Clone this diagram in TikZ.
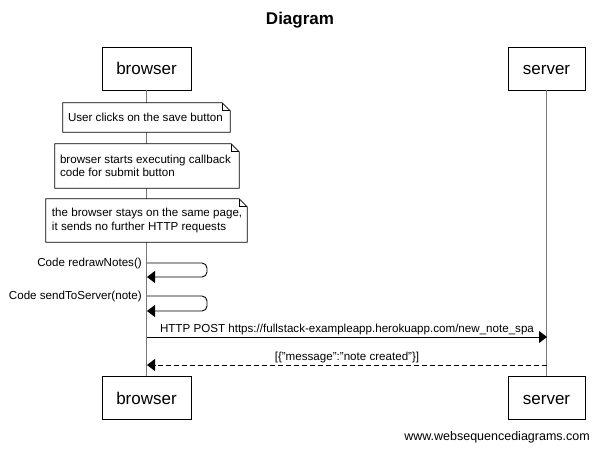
\documentclass[tikz,border=0pt]{standalone}
\usepackage{fontspec}
\setmainfont{Liberation Sans}
\usetikzlibrary{arrows.meta,calc}
\definecolor{lifegray}{RGB}{120,120,120}
\tikzset{
  actor/.style={draw=black, line width=0.9pt, fill=white, minimum height=43pt, inner sep=0pt, text height=13pt, text depth=0pt, font=\fontsize{17}{20}\selectfont},
  notebody/.style={draw=none, inner sep=0pt},
  notetext/.style={inner sep=0pt, anchor=west, align=left, font=\fontsize{11.6}{13.5}\selectfont},
  notedraw/.style={draw=black, line width=0.8pt, fill=white},
  lbl/.style={inner sep=0pt, font=\fontsize{11.6}{13.5}\selectfont},
  lifeline/.style={draw=lifegray, line width=1.3pt},
  msg/.style={draw=black, line width=0.9pt, -{Triangle[length=8pt,width=12pt]}},
  selfmsg/.style={msg, rounded corners=5pt},
  retmsg/.style={msg, dash pattern=on 5pt off 3pt}
}
\newcommand{\drawnote}[1]{%
  \draw[notedraw] (#1.south west) -- (#1.north west) -- ([xshift=-8pt]#1.north east) -- ([yshift=-8pt]#1.north east) -- (#1.south east) -- cycle;
  \draw[line width=0.8pt] ([xshift=-8pt]#1.north east) -- ([xshift=-8pt,yshift=-8pt]#1.north east) -- ([yshift=-8pt]#1.north east);
}
\begin{document}
\begin{tikzpicture}[x=1pt,y=-1pt]
\useasboundingbox (0,0) rectangle (598,449);
% title
\node[font=\bfseries\fontsize{17}{20}\selectfont] (title) at (300,20) {Diagram};
% actors
\node[actor, minimum width=89pt] (bt) at (146.5,68.5) {browser};
\node[actor, minimum width=77pt] (st) at (546.5,68.5) {server};
\node[actor, minimum width=89pt] (bb) at (146.5,398) {browser};
\node[actor, minimum width=77pt] (sb) at (546.5,398) {server};
% lifelines
\draw[lifeline] (bt.south) -- (bb.north);
\draw[lifeline] (st.south) -- (sb.north);
% notes
\node[notebody, minimum width=167pt, minimum height=29pt] (n1) at (146.5,117.5) {};
\drawnote{n1}
\node[notetext] (n1t) at ([xshift=5pt]n1.west) {User clicks on the save button};
\node[notebody, minimum width=184pt, minimum height=44pt] (n2) at (147,166) {};
\drawnote{n2}
\node[notetext] (n2t) at ([xshift=5pt]n2.west) {browser starts executing callback\\code for submit button};
\node[notebody, minimum width=201pt, minimum height=43pt] (n3) at (146.5,220.5) {};
\drawnote{n3}
\node[notetext] (n3t) at ([xshift=6pt]n3.west) {the browser stays on the same page,\\it sends no further HTTP requests};
% self messages
\coordinate (s1a) at (147,263);
\coordinate (s1b) at (147,277);
\draw[selfmsg] (s1a) -- (207,263) -- (207,277) -- (s1b);
\node[lbl, anchor=east] (l1) at (142,263) {Code redrawNotes()};
\coordinate (s2a) at (147,296);
\coordinate (s2b) at (147,311);
\draw[selfmsg] (s2a) -- (207,296) -- (207,311) -- (s2b);
\node[lbl, anchor=east] (l2) at (142,296) {Code sendToServer(note)};
% http post
\coordinate (pa) at (147,337);
\coordinate (pb) at (547,337);
\draw[msg] (pa) -- (pb);
\node[lbl] (l3) at (347,329.5) {HTTP POST https://fullstack-exampleapp.herokuapp.com/new\_note\_spa};
% return
\coordinate (ra) at (547,365);
\coordinate (rb) at (147,365);
\draw[retmsg] (ra) -- (rb);
\node[lbl] (l4) at (347,358) {[\{"message":"note created"\}]};
% footer
\node[inner sep=0pt, anchor=east, font=\fontsize{12.5}{15}\selectfont] (footer) at (590,437) {www.websequencediagrams.com};
\end{tikzpicture}
\end{document}
